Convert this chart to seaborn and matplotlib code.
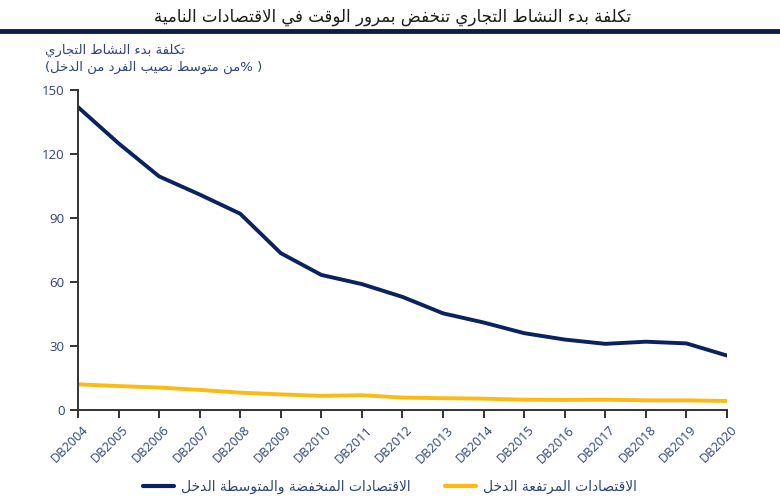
import matplotlib
matplotlib.use('Agg')
import matplotlib.pyplot as plt
from matplotlib.lines import Line2D
from matplotlib.transforms import ScaledTranslation
import seaborn as sns
import pandas as pd

# Chart data
years = ['DB2004', 'DB2005', 'DB2006', 'DB2007', 'DB2008', 'DB2009', 'DB2010', 'DB2011', 'DB2012',
         'DB2013', 'DB2014', 'DB2015', 'DB2016', 'DB2017', 'DB2018', 'DB2019', 'DB2020']
low_middle = [142, 125, 109.5, 101, 92, 73.5, 63.3, 59, 53, 45.3, 41, 36, 33, 31, 32, 31.2, 25.5]
high_income = [12, 11.2, 10.5, 9.4, 8.1, 7.3, 6.6, 6.9, 5.8, 5.5, 5.3, 4.8, 4.7, 4.8, 4.5, 4.5, 4.2]
y_ticks = [0, 30, 60, 90, 120, 150]

title = 'تكلفة بدء النشاط التجاري تنخفض بمرور الوقت في الاقتصادات النامية'
ylabel_1 = 'تكلفة بدء النشاط التجاري'
ylabel_2 = '( %من متوسط نصيب الفرد من الدخل)'
label_low = 'الاقتصادات المنخفضة والمتوسطة الدخل'
label_high = 'الاقتصادات المرتفعة الدخل'

NAVY = '#0b2160'
YELLOW = '#fdbb12'
TEXT_BLUE = '#2e4379'

# Arabic letter forms: (isolated, final, initial, medial) or (isolated, final)
def _f(start, n):
    return tuple(chr(start + k) for k in range(n))

FORMS = {
    'ء': _f(0xFE80, 1), 'آ': _f(0xFE81, 2), 'أ': _f(0xFE83, 2), 'ؤ': _f(0xFE85, 2),
    'إ': _f(0xFE87, 2), 'ئ': _f(0xFE89, 4), 'ا': _f(0xFE8D, 2), 'ب': _f(0xFE8F, 4),
    'ة': _f(0xFE93, 2), 'ت': _f(0xFE95, 4), 'ث': _f(0xFE99, 4), 'ج': _f(0xFE9D, 4),
    'ح': _f(0xFEA1, 4), 'خ': _f(0xFEA5, 4), 'د': _f(0xFEA9, 2), 'ذ': _f(0xFEAB, 2),
    'ر': _f(0xFEAD, 2), 'ز': _f(0xFEAF, 2), 'س': _f(0xFEB1, 4), 'ش': _f(0xFEB5, 4),
    'ص': _f(0xFEB9, 4), 'ض': _f(0xFEBD, 4), 'ط': _f(0xFEC1, 4), 'ظ': _f(0xFEC5, 4),
    'ع': _f(0xFEC9, 4), 'غ': _f(0xFECD, 4), 'ف': _f(0xFED1, 4), 'ق': _f(0xFED5, 4),
    'ك': _f(0xFED9, 4), 'ل': _f(0xFEDD, 4), 'م': _f(0xFEE1, 4), 'ن': _f(0xFEE5, 4),
    'ه': _f(0xFEE9, 4), 'و': _f(0xFEED, 2), 'ى': _f(0xFEEF, 2), 'ي': _f(0xFEF1, 4),
}
LAM_ALEF = {'ا': _f(0xFEFB, 2), 'أ': _f(0xFEF7, 2), 'إ': _f(0xFEF9, 2), 'آ': _f(0xFEF5, 2)}
MIRROR = {'(': ')', ')': '('}


def arabic(text):
    # join lam + alef, then pick contextual forms, then lay out right to left
    tokens = []
    i = 0
    while i < len(text):
        c = text[i]
        if c == 'ل' and i + 1 < len(text) and text[i + 1] in LAM_ALEF:
            tokens.append(LAM_ALEF[text[i + 1]])
            i += 2
        else:
            tokens.append(FORMS.get(c, c))
            i += 1
    out = []
    for k, t in enumerate(tokens):
        if isinstance(t, str):
            out.append(MIRROR.get(t, t))
            continue
        prev = tokens[k - 1] if k > 0 else None
        nxt = tokens[k + 1] if k + 1 < len(tokens) else None
        join_prev = isinstance(prev, tuple) and len(prev) == 4 and len(t) >= 2
        join_next = len(t) == 4 and isinstance(nxt, tuple) and len(nxt) >= 2
        if join_prev and join_next:
            out.append(t[3])
        elif join_next:
            out.append(t[2])
        elif join_prev:
            out.append(t[1])
        else:
            out.append(t[0])
    return ''.join(reversed(out))


df = pd.DataFrame({'year': years * 2,
                   'value': low_middle + high_income,
                   'group': [label_low] * len(years) + [label_high] * len(years)})
df['x'] = list(range(len(years))) * 2

sns.set_style('ticks')
plt.rcParams['font.family'] = ['DejaVu Sans']

fig = plt.figure(figsize=(7.8, 5.03), dpi=100)
ax = fig.add_axes([0.1, 0.185, 0.832, 0.636])

sns.lineplot(data=df, x='x', y='value', hue='group',
             palette={label_low: NAVY, label_high: YELLOW},
             linewidth=2.8, ax=ax, legend=False)

ax.set_xlim(0, len(years) - 1)
ax.set_ylim(0, 150)
ax.set_xlabel('')
ax.set_ylabel('')
for s in ['top', 'right']:
    ax.spines[s].set_visible(False)
for s in ['left', 'bottom']:
    ax.spines[s].set_color('#333333')
    ax.spines[s].set_linewidth(1.4)
ax.tick_params(axis='both', colors='#333333', width=1.4, length=6, labelcolor=TEXT_BLUE)
ax.tick_params(axis='x', pad=7)

ax.set_yticks(y_ticks)
ax.set_yticklabels([str(v) for v in y_ticks], color=TEXT_BLUE, fontsize=9.5,
                   family=['Open Sans', 'DejaVu Sans'])
ax.set_xticks(range(len(years)))
ax.set_xticklabels(years, rotation=45, ha='right', va='center', rotation_mode='anchor',
                   color=TEXT_BLUE, fontsize=9.2, family=['Open Sans', 'DejaVu Sans'])
# nudge the slanted labels to the right, as in the reference
shift = ScaledTranslation(0.08, 0, fig.dpi_scale_trans)
for lab in ax.get_xticklabels():
    lab.set_transform(lab.get_transform() + shift)

# title and rule under it
fig.text(0.503, 0.966, arabic(title), ha='center', va='center', fontsize=12, color='#1a1a1a')
fig.add_artist(Line2D([0, 1], [0.938, 0.938], color='#0e1f45', linewidth=3.5,
                      transform=fig.transFigure))

# y label block
fig.text(0.058, 0.9, arabic(ylabel_1), ha='left', va='center', fontsize=9.5, color=TEXT_BLUE)
fig.text(0.058, 0.866, arabic(ylabel_2), ha='left', va='center', fontsize=9.5, color=TEXT_BLUE)

handles = [Line2D([], [], color=NAVY, linewidth=3), Line2D([], [], color=YELLOW, linewidth=3)]
fig.legend(handles, [arabic(label_low), arabic(label_high)], loc='center', ncol=2,
           bbox_to_anchor=(0.5, 0.032), frameon=False, fontsize=10, labelcolor=TEXT_BLUE,
           handlelength=2.2, columnspacing=2.5, handletextpad=0.5)

fig.savefig('out.png', dpi=100)
